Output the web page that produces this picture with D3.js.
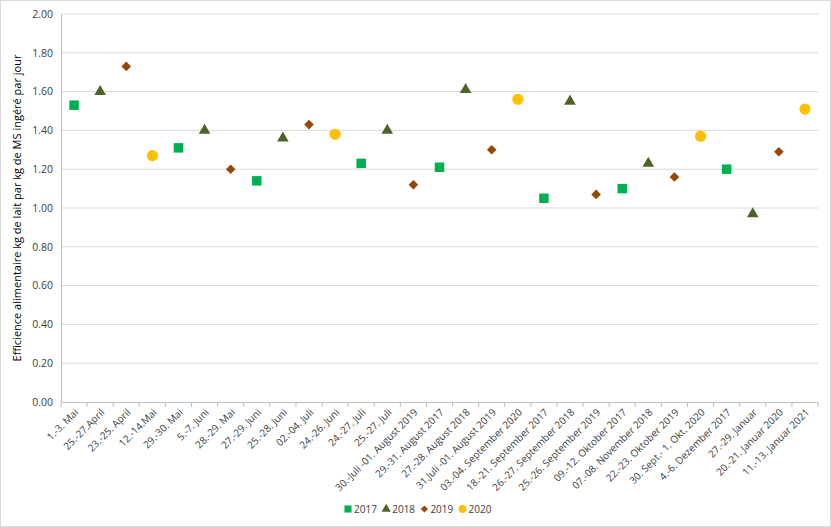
<!DOCTYPE html>
<html lang="fr">
<head>
<meta charset="UTF-8">
<title>Efficience alimentaire</title>
<script src="https://d3js.org/d3.v7.min.js"></script>
<style>
  body { margin: 0; background: #fff; font-family: "Open Sans", "Liberation Sans", Arial, sans-serif; }
  svg { display: block; }
</style>
</head>
<body>
<script>
// Data
const categories = [
  "1.-3. Mai", "25.-27.April", "23.-25. April", "12.-14.Mai", "29.-30. Mai",
  "5.-7. Juni", "28.-29. Mai", "27.-29. Juni", "25.-28. Juni", "02.-04. Juli",
  "24.-26. Juni", "24.-27. Juli", "25.-27. Juli", "30.-Juli -01. August 2019",
  "29.-31. August 2017", "27.-28. August 2018", "31.Juli -01. August 2019",
  "03.-04. September 2020", "18.-21. September 2017", "26.-27. September 2018",
  "25.-26. September 2019", "09.-12. Oktober 2017", "07.-08. November 2018",
  "22.-23. Oktober 2019", "30. Sept.- 1. Okt. 2020", "4.-6. Dezember 2017",
  "27.-29. Januar", "20.-21. Januar 2020", "11.-13. Januar 2021"
];
const pointYear = [
  "2017", "2018", "2019", "2020", "2017", "2018", "2019", "2017", "2018", "2019",
  "2020", "2017", "2018", "2019", "2017", "2018", "2019", "2020", "2017", "2018",
  "2019", "2017", "2018", "2019", "2020", "2017", "2018", "2019", "2020"
];
const values = [
  1.53, 1.60, 1.73, 1.27, 1.31, 1.40, 1.20, 1.14, 1.36, 1.43,
  1.38, 1.23, 1.40, 1.12, 1.21, 1.61, 1.30, 1.56, 1.05, 1.55,
  1.07, 1.10, 1.23, 1.16, 1.37, 1.20, 0.97, 1.29, 1.51
];
const years = ["2017", "2018", "2019", "2020"];
const yTicks = [0, 0.2, 0.4, 0.6, 0.8, 1.0, 1.2, 1.4, 1.6, 1.8, 2.0];

const width = 831, height = 527;
const margin = { top: 14, right: 13, bottom: 125, left: 61 };
const font = "'Open Sans', 'Liberation Sans', Arial, sans-serif";

const svg = d3.select("body").append("svg")
  .attr("width", width)
  .attr("height", height);

svg.append("rect")
  .attr("x", 0.5).attr("y", 0.5)
  .attr("width", width - 1).attr("height", height - 1)
  .attr("fill", "#fff").attr("stroke", "#d9d9d9");

const x = d3.scaleBand()
  .domain(categories)
  .range([margin.left, width - margin.right]);

const y = d3.scaleLinear()
  .domain([0, 2])
  .range([height - margin.bottom, margin.top]);

const color = d3.scaleOrdinal()
  .domain(years)
  .range(["#00b050", "#4f6228", "#974706", "#ffc000"]);

// diamond = square turned 45 degrees, like the spreadsheet marker
const shape = d3.scaleOrdinal()
  .domain(years)
  .range([d3.symbolSquare, d3.symbolTriangle, d3.symbolSquare, d3.symbolCircle]);

const size = d3.scaleOrdinal()
  .domain(years)
  .range([90, 58, 46, 100]);

const turn = d => d === "2019" ? " rotate(45)" : "";

// gridlines
svg.append("g")
  .selectAll("line")
  .data(yTicks.filter(d => d > 0))
  .join("line")
  .attr("x1", margin.left).attr("x2", width - margin.right)
  .attr("y1", d => y(d)).attr("y2", d => y(d))
  .attr("stroke", "#d9d9d9").attr("stroke-width", 1);

// y axis
const yAxis = svg.append("g")
  .attr("transform", `translate(${margin.left},0)`)
  .call(d3.axisLeft(y).tickValues(yTicks).tickFormat(d3.format(".2f")).tickSize(0).tickPadding(8));
yAxis.select(".domain").attr("stroke", "#bfbfbf");
yAxis.selectAll("text").attr("font-size", 10.5).attr("fill", "#404040")
  .attr("font-family", font);

// x axis
const xAxis = svg.append("g")
  .attr("transform", `translate(0,${height - margin.bottom})`)
  .call(d3.axisBottom(x).tickSize(0).tickPadding(0));
xAxis.select(".domain").attr("stroke", "#bfbfbf");
xAxis.selectAll("text")
  .attr("font-size", 10)
  .attr("fill", "#404040")
  .attr("font-family", font)
  .attr("text-anchor", "end")
  .attr("dy", null)
  .attr("y", 0)
  .attr("transform", "translate(5,11) rotate(-45)");

// band boundary ticks
const edges = categories.map(c => x(c)).concat([x.range()[1]]);
xAxis.append("g")
  .selectAll("line")
  .data(edges)
  .join("line")
  .attr("x1", d => d).attr("x2", d => d)
  .attr("y1", 0).attr("y2", 5)
  .attr("stroke", "#bfbfbf");

// y label
svg.append("text")
  .attr("transform", `translate(21,${(y(0) + y(2)) / 2}) rotate(-90)`)
  .attr("text-anchor", "middle")
  .attr("font-size", 11)
  .attr("fill", "#000")
  .text("Efficience alimentaire  kg de lait par kg de MS ingéré par jour");

// points
svg.append("g")
  .selectAll("path")
  .data(categories.map((c, i) => ({ cat: c, year: pointYear[i], value: values[i] })))
  .join("path")
  .attr("transform", d => `translate(${x(d.cat) + x.bandwidth() / 2},${y(d.value)})${turn(d.year)}`)
  .attr("d", d => d3.symbol(shape(d.year), size(d.year))())
  .attr("fill", d => color(d.year));

// legend
const legend = svg.append("g").attr("transform", `translate(348,509)`);
const item = legend.selectAll("g")
  .data(years)
  .join("g")
  .attr("transform", (d, i) => `translate(${i * 38.2},0)`);
item.append("path")
  .attr("transform", d => turn(d).trim() || null)
  .attr("d", d => d3.symbol(shape(d), d === "2019" ? 26 : d === "2018" ? 36 : 50)())
  .attr("fill", d => color(d));
item.append("text")
  .attr("x", 6)
  .attr("dy", "0.35em")
  .attr("font-size", 10)
  .attr("fill", "#404040")
  .text(d => d);
</script>
</body>
</html>
